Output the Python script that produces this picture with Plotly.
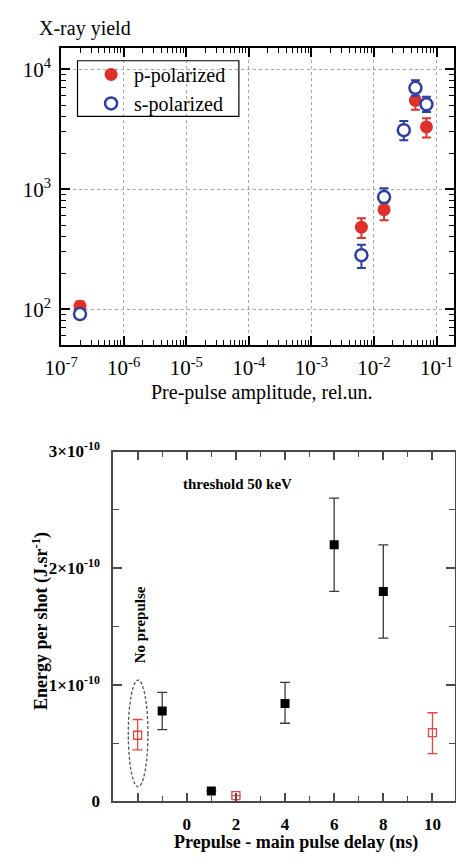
import plotly.graph_objects as go

W, H = 456, 864

# ---- Top panel: X-ray yield vs pre-pulse amplitude ----
p_amp = [2e-7, 6.3e-3, 1.45e-2, 4.6e-2, 6.9e-2]
p_yield = [106, 482, 675, 5500, 3300]
p_err_hi = [10, 90, 125, 900, 600]
p_err_lo = [8, 90, 125, 900, 600]

s_amp = [2e-7, 6.3e-3, 1.45e-2, 3.0e-2, 4.6e-2, 6.9e-2]
s_yield = [91, 282, 860, 3100, 7000, 5100]
s_err_hi = [6, 63, 160, 600, 1100, 800]
s_err_lo = [6, 62, 90, 540, 1000, 700]

amp_ticks = [1e-7, 1e-6, 1e-5, 1e-4, 1e-3, 1e-2, 1e-1]
amp_labels = ["10<sup>-7</sup>", "10<sup>-6</sup>", "10<sup>-5</sup>", "10<sup>-4</sup>",
              "10<sup>-3</sup>", "10<sup>-2</sup>", "10<sup>-1</sup>"]
yield_ticks = [1e2, 1e3, 1e4]
yield_labels = ["10<sup>2</sup>", "10<sup>3</sup>", "10<sup>4</sup>"]

# ---- Bottom panel: energy per shot vs prepulse delay ----
black_delay = [-1, 1, 4, 6, 8]
black_energy = [0.775e-10, 0.09e-10, 0.84e-10, 2.2e-10, 1.8e-10]
black_err_hi = [0.16e-10, 0.0, 0.18e-10, 0.4e-10, 0.4e-10]
black_err_lo = [0.16e-10, 0.0, 0.17e-10, 0.4e-10, 0.4e-10]

red_delay = [-2, 2, 10]
red_energy = [0.567e-10, 0.05e-10, 0.59e-10]
red_err_hi = [0.135e-10, 0.0, 0.17e-10]
red_err_lo = [0.125e-10, 0.0, 0.18e-10]

delay_ticks = [-2, 0, 2, 4, 6, 8, 10]
delay_labels = ["", "0", "2", "4", "6", "8", "10"]
energy_ticks = [0, 1e-10, 2e-10, 3e-10]
energy_labels = ["0", "1×10<sup>-10</sup>", "2×10<sup>-10</sup>", "3×10<sup>-10</sup>"]


def log_minor(lo_exp, hi_exp):
    """Positions 2..9 x 10^k for each decade between the given exponents."""
    return [k * 10.0 ** e for e in range(lo_exp, hi_exp) for k in range(2, 10)]


def px_box(x0, x1, y0, y1):
    """Rectangle in paper coordinates from pixel extents."""
    return dict(x0=x0 / W, x1=x1 / W, y0=1 - y1 / H, y1=1 - y0 / H)


RED = "#e0302a"
BLUE = "#2e3fa3"
SERIF = "Liberation Serif"

fig = go.Figure()

fig.add_trace(go.Scatter(
    x=p_amp, y=p_yield, mode="markers", name="p-polarized",
    marker=dict(symbol="circle", size=13, color=RED),
    error_y=dict(type="data", array=p_err_hi, arrayminus=p_err_lo,
                 color=RED, thickness=2, width=4.5),
    xaxis="x", yaxis="y",
))
fig.add_trace(go.Scatter(
    x=s_amp, y=s_yield, mode="markers", name="s-polarized",
    marker=dict(symbol="circle", size=12, color="white",
                line=dict(color=BLUE, width=2.5)),
    error_y=dict(type="data", array=s_err_hi, arrayminus=s_err_lo,
                 color=BLUE, thickness=2, width=4.5),
    xaxis="x", yaxis="y",
))

fig.add_trace(go.Scatter(
    x=black_delay, y=black_energy, mode="markers", showlegend=False,
    marker=dict(symbol="square", size=9, color="black"),
    error_y=dict(type="data", array=black_err_hi, arrayminus=black_err_lo,
                 color="#3a3a3a", thickness=1.3, width=5),
    xaxis="x2", yaxis="y2",
))
fig.add_trace(go.Scatter(
    x=red_delay, y=red_energy, mode="markers", showlegend=False,
    marker=dict(symbol="square-open", size=8, color="#e8463e",
                line=dict(color="#e8463e", width=1.3)),
    error_y=dict(type="data", array=red_err_hi, arrayminus=red_err_lo,
                 color="#e8463e", thickness=1.3, width=5),
    xaxis="x2", yaxis="y2",
))

top_axis = dict(
    showline=True, linecolor="black", linewidth=2, mirror="allticks",
    ticks="inside", ticklen=9, tickwidth=1.5, tickcolor="black",
    showgrid=True, gridcolor="#a8a8a8", griddash="dot", gridwidth=1,
    zeroline=False,
    tickfont=dict(family=SERIF, size=21, color="black"),
)

bottom_axis = dict(
    showline=True, linecolor="#4a4a4a", linewidth=1.5, mirror="allticks",
    ticks="inside", ticklen=9, tickwidth=1.5, tickcolor="#4a4a4a",
    showgrid=False, zeroline=False,
)

fig.update_layout(
    width=W, height=H,
    margin=dict(l=0, r=0, t=0, b=0),
    paper_bgcolor="white", plot_bgcolor="white",
    font=dict(family=SERIF, color="black"),
    xaxis=dict(
        top_axis, type="log", domain=[46 / W, 455 / W], anchor="y",
        range=[-7, -0.72], tickvals=amp_ticks, ticktext=amp_labels,
        ticklabelstandoff=3,
        minor=dict(ticks="inside", ticklen=5, tickwidth=1.2, tickcolor="black",
                   showgrid=False, tickvals=log_minor(-7, 0)),
    ),
    yaxis=dict(
        top_axis, type="log", domain=[1 - 342 / H, 1 - 37 / H], anchor="x",
        range=[1.699, 4.176], tickvals=yield_ticks, ticktext=yield_labels,
        ticklabelstandoff=4,
        minor=dict(ticks="inside", ticklen=5, tickwidth=1.2, tickcolor="black",
                   showgrid=False, tickvals=log_minor(1, 5)),
    ),
    xaxis2=dict(
        bottom_axis, domain=[100 / W, 0.999], anchor="y2",
        range=[-3, 10.9], tickvals=delay_ticks, ticktext=delay_labels,
        ticklabelstandoff=6,
        tickfont=dict(family=SERIF, size=17, color="black", weight="bold"),
        minor=dict(ticks="inside", ticklen=6, tickwidth=1.3, tickcolor="#4a4a4a",
                   showgrid=False, tickvals=[-1, 1, 3, 5, 7, 9]),
    ),
    yaxis2=dict(
        bottom_axis, domain=[1 - 810 / H, 1 - 451 / H], anchor="x2",
        range=[0, 3e-10], tickvals=energy_ticks, ticktext=energy_labels,
        ticklabelstandoff=8,
        tickfont=dict(family=SERIF, size=17, color="black", weight="bold"),
        minor=dict(ticks="inside", ticklen=6, tickwidth=1.3, tickcolor="#4a4a4a",
                   showgrid=False, tickvals=[0.5e-10, 1.5e-10, 2.5e-10]),
    ),
    legend=dict(
        x=74 / W, y=1 - 44 / H, xanchor="left", yanchor="top",
        borderwidth=0, bgcolor="rgba(0,0,0,0)",
        font=dict(family=SERIF, size=20, color="black"),
        itemwidth=36, tracegroupgap=0,
    ),
    annotations=[
        dict(text="X-ray yield", xref="paper", yref="paper",
             x=21 / W, y=1 - 17 / H, xanchor="left", yanchor="middle",
             showarrow=False, font=dict(family=SERIF, size=20, color="black")),
        dict(text="Pre-pulse amplitude, rel.un.", xref="paper", yref="paper",
             x=255 / W, y=1 - 390 / H, xanchor="center", yanchor="middle",
             showarrow=False, font=dict(family=SERIF, size=20, color="black")),
        dict(text="Energy per shot (J.sr<sup>-1</sup>)", xref="paper", yref="paper",
             x=25 / W, y=1 - 625 / H, xanchor="center", yanchor="middle",
             textangle=-90, showarrow=False,
             font=dict(family=SERIF, size=18, color="black", weight="bold")),
        dict(text="Prepulse - main pulse delay (ns)", xref="paper", yref="paper",
             x=290 / W, y=1 - 852 / H, xanchor="center", yanchor="middle",
             showarrow=False,
             font=dict(family=SERIF, size=18, color="black", weight="bold")),
        dict(text="threshold 50 keV", xref="x2", yref="y2",
             x=2.06, y=2.72e-10, xanchor="center", yanchor="middle",
             showarrow=False,
             font=dict(family=SERIF, size=15, color="black", weight="bold")),
        dict(text="No prepulse", xref="x2", yref="y2",
             x=red_delay[0] + 0.1, y=1.51e-10, textangle=-90,
             xanchor="center", yanchor="middle", showarrow=False,
             font=dict(family=SERIF, size=15, color="black", weight="bold")),
    ],
    shapes=[
        # legend frame
        dict(type="rect", xref="paper", yref="paper", **px_box(63, 231, 50, 107),
             line=dict(color="black", width=1.2), fillcolor="rgba(0,0,0,0)"),
        # ellipse around the no-prepulse reference point
        dict(type="circle", xref="x2", yref="y2",
             x0=red_delay[0] - 0.38, x1=red_delay[0] + 0.42,
             y0=0.125e-10, y1=1.04e-10,
             line=dict(color="#555555", width=1.3, dash="3px,2px")),
    ],
)

fig.write_html("out.html")
